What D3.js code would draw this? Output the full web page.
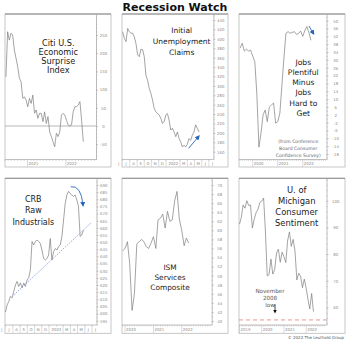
<!DOCTYPE html>
<html><head><meta charset="utf-8">
<script src="https://cdn.jsdelivr.net/npm/d3@7"></script>
<style>body{margin:0;background:#fff}svg{display:block}</style>
</head><body><svg id="c" width="350" height="341"></svg>
<script>
// ---------------- DATA ----------------
const chartTitle = "Recession Watch";
const credit = "\u00a9 2022 The Leuthold Group";

// Citi U.S. Economic Surprise Index (about every 16 days)
const citiStart = "2020-06-10", citiStepDays = 16;
const citiValues = [135,259,236,255,250,209,186,163,131,122,76,80,71,53,76,62,85,35,44,21,35,35,12,39,7,26,-16,-29,-43,-57,-20,-29,-16,30,35,30,16,3,0,3,39,53,53,58,67,16,-43];
const citiTicks = [250,200,150,100,50,0,-50];

// Initial Unemployment Claims (weekly, thousands)
const claimsStart = "2021-07-02", claimsStepDays = 7;
const claimsValues = [415,401,394,422,415,412,412,404,390,366,362,378,377,362,323,312,295,284,270,252,245,241,238,231,220,224,238,241,227,206,210,202,192,202,188,181,170,174,170,176,188,184,195,202,217,210,202];
const claimsTicks = [440,420,400,380,360,340,320,300,280,260,240,220,200,180,160];

// Jobs Plentiful minus Jobs Hard to Get (monthly)
const jobsStart = "2019-07-01";
const jobsValues = [36,38.5,34.5,35.5,34.5,35,32,29,13,-14.5,-7.5,2,4.4,-1.5,6,7,8,-2.3,-1.5,2.8,16.3,30.8,43.6,44.4,43.6,44,44.4,43,43.5,44.7,42,45,47,44,40];
const jobsTicks = [50,46,42,38,34,30,26,22,18,14,10,6,2,-2,-6,-10,-14,-18];

// CRB Raw Industrials (weekly)
const crbStart = "2021-07-01", crbStepDays = 7;
const crbValues = [601,606,608.5,612,611,615.5,620,622.5,619,621.5,618,621.5,619,623.5,625,630.5,650.5,648,650.5,651.5,650.5,649,644.5,638.5,637.5,638.5,641,652.5,637.5,643.5,645.5,644.5,647,648,654,665.5,677,683,685.5,684,683,682,683,679.5,675,654,655,658.5];
const crbTicks = [690,685,680,675,670,665,660,655,650,645,640,635,630,625,620,615,610,605,600,595];
const crbTrend = [{date:"2021-08-05", value:613}, {date:"2022-06-28", value:663.6}];

// ISM Services Composite (monthly)
const ismStart = "2019-12-01";
const ismValues = [55.5,56,57.5,52.7,42.3,46,57,57.5,58,57.5,56.4,56,57.2,58.6,56,62.3,62.7,63.6,60.5,64.2,62,62.3,66.5,68.6,62.5,60,56.6,58.3,57.2];
const ismTicks = [70,68,66,64,62,60,58,56,54,52,50,48,46,44,42,40];

// U. of Michigan Consumer Sentiment (monthly)
const umStart = "2019-01-01";
const umValues = [91.2,93.8,98.4,97.2,100,98.2,98.4,89.8,93.2,95.5,96.8,99.3,99.8,101,89.1,71.8,72.3,78.1,72.5,74.1,80.4,81.8,76.9,80.7,79,76.8,84.9,88.3,82.9,85.5,81.2,70.3,72.8,71.7,67.4,70.6,67.2,62.8,59.4,65.2,58.4];
const umTicks = [100,90,80,70,60];
const nov2008Low = 55.3;

const monthInitials = ["J","F","M","A","M","J","J","A","S","O","N","D"];

// ---------------- HELPERS ----------------
const parse = d3.timeParse("%Y-%m-%d");
const FONT = "'DejaVu Sans', sans-serif";
const svg = d3.select("#c");
const LINE = "#7c7c7c";
const BLUE = "#2266c0";

function stepSeries(start, stepDays, values){
  const s = parse(start);
  return values.map((v,i)=>({date:d3.timeDay.offset(s, i*stepDays), value:v}));
}
function monthSeries(start, values){
  const s = parse(start);
  return values.map((v,i)=>({date:d3.timeMonth.offset(s, i), value:v}));
}
function minorTicks(domain, step, majors){
  const out = [];
  const a = Math.ceil(domain[0]/step)*step;
  for (let v = a; v <= domain[1]; v += step){ const r = Math.round(v*100)/100; if (!majors.includes(r)) out.push(r); }
  return out;
}

const defs = svg.append("defs");
defs.append("marker").attr("id","ahBlue").attr("viewBox","0 0 10 10").attr("refX",6).attr("refY",5)
  .attr("markerWidth",5).attr("markerHeight",5).attr("markerUnits","userSpaceOnUse").attr("orient","auto")
  .append("path").attr("d","M0,0L10,5L0,10z").attr("fill",BLUE);
defs.append("marker").attr("id","ahBlack").attr("viewBox","0 0 10 10").attr("refX",6).attr("refY",5)
  .attr("markerWidth",4).attr("markerHeight",4).attr("markerUnits","userSpaceOnUse").attr("orient","auto")
  .append("path").attr("d","M0,0L10,5L0,10z").attr("fill","#111");

function drawPanel(p){
  const g = svg.append("g").attr("transform",`translate(${p.left},${p.top})`);
  g.append("rect").attr("width",p.w).attr("height",p.h).attr("fill","#fff").attr("stroke","#b9b9b9").attr("stroke-width",0.8);
  g.append("line").attr("x1",0).attr("x2",p.w).attr("y1",0).attr("y2",0).attr("stroke","#8a8a8a").attr("stroke-width",1.1);

  const x = d3.scaleTime().domain(p.xDomain.map(parse)).range([0,p.pw]);
  const y = d3.scaleLinear().domain(p.yDomain).range([p.ph,0]);
  p.x = x; p.y = y; p.g = g;

  g.append("line").attr("x1",0).attr("x2",p.pw).attr("y1",p.ph).attr("y2",p.ph).attr("stroke","#a8a8a8").attr("stroke-width",0.7);

  const strip = p.w - p.pw;
  const ax = g.append("g").attr("transform",`translate(${p.pw},0)`)
    .call(d3.axisRight(y).tickValues(p.yTicks).tickSize(2).tickSizeOuter(0).tickFormat(d=>String(d)));
  ax.select(".domain").attr("stroke","#a0a0a0").attr("stroke-width",0.7);
  ax.selectAll(".tick line").attr("stroke","#a0a0a0").attr("stroke-width",0.6);
  ax.selectAll(".tick text").attr("x",strip/2).attr("text-anchor","middle").attr("dy","0.35em")
    .attr("font-family",FONT).attr("font-size",3.9).attr("fill","#8a8a8a");
  const mn = g.append("g").attr("transform",`translate(${p.pw},0)`)
    .call(d3.axisRight(y).tickValues(minorTicks(p.yDomain,p.yMinorStep,p.yTicks)).tickSize(1.2).tickSizeOuter(0).tickFormat(""));
  mn.select(".domain").remove();
  mn.selectAll(".tick line").attr("stroke","#a8a8a8").attr("stroke-width",0.5);

  const [d0,d1] = x.domain();
  const months = d3.timeMonth.range(d3.timeMonth.ceil(d0), d1);
  const midStrip = p.ph + (p.h - p.ph)/2 + 1.4;
  g.append("g").selectAll("line").data(months).join("line")
    .attr("x1",d=>x(d)).attr("x2",d=>x(d)).attr("y1",p.ph).attr("y2",p.ph+1.3)
    .attr("stroke","#a0a0a0").attr("stroke-width",0.5);
  if (p.xMode === "year"){
    const years = d3.timeYear.range(d3.timeYear.ceil(d0), d1).filter(d=>x(d)+9 <= p.pw);
    g.append("g").selectAll("line").data(years).join("line")
      .attr("x1",d=>x(d)).attr("x2",d=>x(d)).attr("y1",p.ph).attr("y2",p.h)
      .attr("stroke","#c4c4c4").attr("stroke-width",0.6);
    g.append("g").selectAll("text").data(years).join("text")
      .attr("x",d=>x(d)+1).attr("y",midStrip).attr("text-anchor","start")
      .attr("font-family",FONT).attr("font-size",3.9).attr("fill","#8a8a8a")
      .text(d=>d.getFullYear());
  } else {
    const ms = d3.timeMonth.range(d3.timeMonth.floor(d0), d1);
    g.append("g").selectAll("line").data(ms.filter(d=>x(d)>0.5 && d.getMonth()!==1)).join("line")
      .attr("x1",d=>x(d)).attr("x2",d=>x(d)).attr("y1",p.ph).attr("y2",p.h)
      .attr("stroke","#c4c4c4").attr("stroke-width",0.6);
    g.append("g").selectAll("text").data(ms.filter(d=>d.getMonth()!==1)).join("text")
      .attr("x",d=> d.getMonth()===0 ? x(d3.timeMonth.offset(d,1)) : (x(d)+x(d3.timeMonth.offset(d,1)))/2)
      .attr("y",midStrip).attr("text-anchor","middle")
      .attr("font-family",FONT).attr("font-size",3.9).attr("fill","#8a8a8a")
      .text(d=> d.getMonth()===0 ? d.getFullYear() : monthInitials[d.getMonth()]);
  }

  if (p.zeroLine){
    g.append("line").attr("x1",0).attr("x2",p.pw).attr("y1",y(0)).attr("y2",y(0)).attr("stroke","#9a9a9a").attr("stroke-width",0.7);
  }

  g.append("path").datum(p.data).attr("fill","none").attr("stroke",LINE).attr("stroke-width",0.7)
    .attr("stroke-linejoin","round")
    .attr("d", d3.line().x(d=>x(d.date)).y(d=>y(d.value)));

  const t = g.append("text").attr("font-family",FONT).attr("font-size",p.tSize).attr("fill","#1a1a1a").attr("text-anchor","middle");
  p.title.forEach((s,i)=> t.append("tspan").attr("x",p.tx).attr("y",p.ty+i*p.tGap).text(s));
  return p;
}

// ---------------- PANELS ----------------
const P = [];
P.push(drawPanel({left:5, top:14, w:106, h:153, pw:91, ph:145.5,
  xDomain:["2020-06-01","2022-10-15"], yDomain:[-92,307.7], yTicks:citiTicks, yMinorStep:10, xMode:"year",
  data:stepSeries(citiStart,citiStepDays,citiValues), zeroLine:true,
  title:["Citi U.S.","Economic","Surprise","Index"], tx:53.3, ty:32.3, tSize:8.2, tGap:9}));
P.push(drawPanel({left:122, top:14, w:106, h:153, pw:91.4, ph:145.5,
  xDomain:["2021-06-29","2022-07-20"], yDomain:[143.4,452.8], yTicks:claimsTicks, yMinorStep:10, xMode:"month",
  data:stepSeries(claimsStart,claimsStepDays,claimsValues),
  title:["Initial","Unemployment","Claims"], tx:59.7, ty:19, tSize:7.5, tGap:10.8}));
P.push(drawPanel({left:239, top:14, w:106, h:153, pw:87.5, ph:145.5,
  xDomain:["2019-06-15","2022-12-14"], yDomain:[-20.8,53.4], yTicks:jobsTicks, yMinorStep:2, xMode:"year",
  data:monthSeries(jobsStart,jobsValues),
  title:["Jobs","Plentiful","Minus","Jobs","Hard to","Get"], tx:64.3, ty:50.5, tSize:7.6, tGap:10.3}));
P.push(drawPanel({left:5, top:178.3, w:106, h:155, pw:91.5, ph:146.7,
  xDomain:["2021-06-29","2022-07-20"], yDomain:[592,694.7], yTicks:crbTicks, yMinorStep:2.5, xMode:"month",
  data:stepSeries(crbStart,crbStepDays,crbValues),
  title:["CRB","Raw","Industrials"], tx:28.3, ty:24, tSize:8, tGap:11.2}));
P.push(drawPanel({left:122, top:178.3, w:106, h:155, pw:89.7, ph:146.7,
  xDomain:["2019-11-23","2023-01-22"], yDomain:[39.1,71.5], yTicks:ismTicks, yMinorStep:1, xMode:"year",
  data:monthSeries(ismStart,ismValues),
  title:["ISM","Services","Composite"], tx:48, ty:91.4, tSize:7.4, tGap:10.3}));
P.push(drawPanel({left:239, top:178.3, w:106, h:155, pw:87.5, ph:146.7,
  xDomain:["2018-12-24","2022-12-01"], yDomain:[53.4,108.4], yTicks:umTicks, yMinorStep:2, xMode:"year",
  data:monthSeries(umStart,umValues),
  title:["U. of","Michigan","Consumer","Sentiment"], tx:57.7, ty:14.7, tSize:8.4, tGap:11.1}));

// ---------------- ANNOTATIONS ----------------
(function(){ const p=P[1];
  p.g.append("line").attr("x1",p.x(parse("2022-04-06"))).attr("y1",p.y(167))
    .attr("x2",p.x(parse("2022-05-18"))).attr("y2",p.y(192))
    .attr("stroke",BLUE).attr("stroke-width",0.9).attr("marker-end","url(#ahBlue)");
})();
(function(){ const p=P[2];
  p.g.append("line").attr("x1",p.x(parse("2022-04-01"))).attr("y1",p.y(47.3))
    .attr("x2",p.x(parse("2022-06-03"))).attr("y2",p.y(43.6))
    .attr("stroke",BLUE).attr("stroke-width",0.9).attr("marker-end","url(#ahBlue)");
  const t = p.g.append("text").attr("font-family",FONT).attr("font-size",4.6).attr("fill","#666").attr("text-anchor","middle");
  ["(from Conference","Board Consumer","Confidence Survey)"].forEach((s,i)=>t.append("tspan").attr("x",59.3).attr("y",129.3+i*6.7).text(s));
})();
(function(){ const p=P[3];
  p.g.append("path").datum(crbTrend).attr("fill","none").attr("stroke","#6f86d6").attr("stroke-width",0.7)
    .attr("stroke-dasharray","1.6,1.2")
    .attr("d", d3.line().x(d=>p.x(parse(d.date))).y(d=>p.y(d.value)));
  const a = [p.x(parse("2022-04-02")), p.y(688.8)], c = [p.x(parse("2022-05-16")), p.y(690)], b = [p.x(parse("2022-05-24")), p.y(676)];
  p.g.append("path").attr("d",`M${a[0]},${a[1]}Q${c[0]},${c[1]} ${b[0]},${b[1]}`).attr("fill","none")
    .attr("stroke",BLUE).attr("stroke-width",0.9).attr("marker-end","url(#ahBlue)");
})();
(function(){ const p=P[5];
  p.g.append("line").attr("x1",0).attr("x2",p.pw).attr("y1",p.y(nov2008Low)).attr("y2",p.y(nov2008Low))
    .attr("stroke","#e07a7a").attr("stroke-width",0.8).attr("stroke-dasharray","4,3");
  const t = p.g.append("text").attr("font-family",FONT).attr("font-size",5.6).attr("fill","#555").attr("text-anchor","middle");
  ["November","2008","low"].forEach((s,i)=>t.append("tspan").attr("x",31).attr("y",115.2+i*7).text(s));
  p.g.append("line").attr("x1",36).attr("x2",36).attr("y1",p.y(61.2)).attr("y2",p.y(58.3))
    .attr("stroke","#111").attr("stroke-width",0.8).attr("marker-end","url(#ahBlack)");
})();

svg.append("text").attr("x",175).attr("y",10.5).attr("text-anchor","middle")
  .attr("font-family",FONT).attr("font-weight","bold").attr("font-size",11).attr("fill","#111").text(chartTitle);
svg.append("text").attr("x",344).attr("y",338.5).attr("text-anchor","end")
  .attr("font-family",FONT).attr("font-size",4).attr("fill","#555").text(credit);
</script></body></html>
